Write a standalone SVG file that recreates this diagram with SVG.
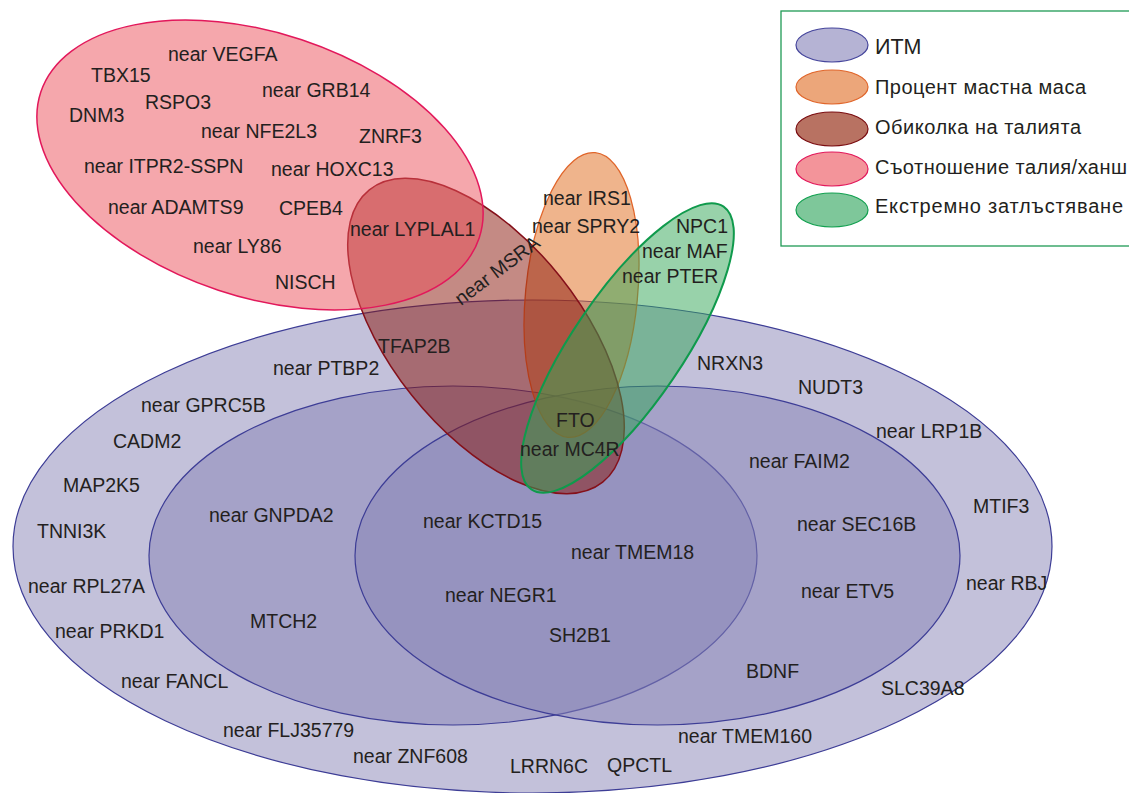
<svg xmlns="http://www.w3.org/2000/svg" width="1129" height="793" viewBox="0 0 1129 793">
<style>
text{font-family:"Liberation Sans",Arial,sans-serif;font-size:19.5px;fill:#231f20}
.bmi{fill:#8783b5;fill-opacity:.5;stroke:#3d3d96;stroke-width:1.2}
.fat{fill:#df6919;fill-opacity:.5;stroke:#e0652a;stroke-width:1.3}
.waist{fill:#89150a;fill-opacity:.5;stroke:#85101a;stroke-width:1.5}
.whr{fill:#eb4f5a;fill-opacity:.5;stroke:#e2185b;stroke-width:1.5}
.ext{fill:#31a555;fill-opacity:.5;stroke:#0f9a4c;stroke-width:2}
.leg{font-size:20px}
</style>
<rect width="1129" height="793" fill="#ffffff"/>
<g id="bmi">
<ellipse class="bmi" cx="532.5" cy="546.5" rx="519.5" ry="246.5"/>
<ellipse class="bmi" cx="453" cy="555.5" rx="304" ry="169.5"/>
<ellipse class="bmi" cx="657.5" cy="555.5" rx="302.5" ry="169.5"/>
</g>
<g id="body-fat">
<ellipse class="fat" cx="0" cy="0" rx="143" ry="56" transform="translate(581.5 295) rotate(95.5)"/>
</g>
<g id="waist">
<ellipse class="waist" cx="0" cy="0" rx="187" ry="95" transform="translate(486 336) rotate(51.4)"/>
</g>
<g id="whr">
<ellipse class="whr" cx="0" cy="0" rx="231" ry="132" transform="translate(260 165) rotate(18.4)"/>
</g>
<g id="extreme">
<ellipse class="ext" cx="0" cy="0" rx="171" ry="55" transform="translate(627.5 348) rotate(124.2)"/>
</g>
<g id="connectors"/>
<g id="labels">
<text x="168" y="61">near VEGFA</text>
<text x="91" y="82">TBX15</text>
<text x="262" y="97">near GRB14</text>
<text x="145" y="109">RSPO3</text>
<text x="69" y="122">DNM3</text>
<text x="201" y="138">near NFE2L3</text>
<text x="359" y="143">ZNRF3</text>
<text x="84" y="173">near ITPR2-SSPN</text>
<text x="271" y="176">near HOXC13</text>
<text x="108" y="214">near ADAMTS9</text>
<text x="279" y="215">CPEB4</text>
<text x="350" y="236">near LYPLAL1</text>
<text x="193" y="253">near LY86</text>
<text x="275" y="289">NISCH</text>
<text x="0" y="0" transform="translate(461 306) rotate(-37)">near MSRA</text>
<text x="543" y="205">near IRS1</text>
<text x="532" y="233">near SPRY2</text>
<text x="676" y="233">NPC1</text>
<text x="642" y="258">near MAF</text>
<text x="622" y="283">near PTER</text>
<text x="378" y="353">TFAP2B</text>
<text x="556" y="427">FTO</text>
<text x="520" y="456">near MC4R</text>
<text x="697" y="370">NRXN3</text>
<text x="273" y="375">near PTBP2</text>
<text x="141" y="412">near GPRC5B</text>
<text x="113" y="448">CADM2</text>
<text x="63" y="492">MAP2K5</text>
<text x="37" y="538">TNNI3K</text>
<text x="209" y="522">near GNPDA2</text>
<text x="28" y="593">near RPL27A</text>
<text x="55" y="638">near PRKD1</text>
<text x="250" y="628">MTCH2</text>
<text x="121" y="688">near FANCL</text>
<text x="223" y="737">near FLJ35779</text>
<text x="353" y="763">near ZNF608</text>
<text x="510" y="773">LRRN6C</text>
<text x="607" y="772">QPCTL</text>
<text x="678" y="743">near TMEM160</text>
<text x="881" y="695">SLC39A8</text>
<text x="746" y="678">BDNF</text>
<text x="801" y="598">near ETV5</text>
<text x="966" y="590">near RBJ</text>
<text x="797" y="531">near SEC16B</text>
<text x="973" y="513">MTIF3</text>
<text x="749" y="468">near FAIM2</text>
<text x="876" y="438">near LRP1B</text>
<text x="798" y="394">NUDT3</text>
<text x="423" y="528">near KCTD15</text>
<text x="571" y="559">near TMEM18</text>
<text x="445" y="602">near NEGR1</text>
<text x="549" y="642">SH2B1</text>
</g>
<g id="legend">
<rect x="781" y="11" width="360" height="235" fill="#ffffff" stroke="#1f9a55" stroke-width="1.3"/>
<ellipse cx="832" cy="45" rx="36" ry="17" fill="#b5b3d4" stroke="#45459c" stroke-width="1.2"/>
<ellipse cx="832" cy="87" rx="36" ry="17" fill="#eca67a" stroke="#e0652a" stroke-width="1.2"/>
<ellipse cx="832" cy="129" rx="36" ry="17" fill="#b87262" stroke="#7a0c10" stroke-width="1.2"/>
<ellipse cx="832" cy="169" rx="36" ry="17" fill="#f3949a" stroke="#e2185b" stroke-width="1.2"/>
<ellipse cx="832" cy="210" rx="36" ry="17" fill="#7ec79a" stroke="#12a050" stroke-width="1.2"/>
<text x="875" y="54" style="font-size:21.5px">ИТМ</text>
<text x="875" y="94" class="leg" lang="bg" textLength="211" lengthAdjust="spacing">Процент мастна маса</text>
<text x="875" y="134" class="leg" lang="bg" textLength="206" lengthAdjust="spacing">Обиколка на талията</text>
<text x="875" y="174" class="leg" lang="bg" textLength="252" lengthAdjust="spacing">Съотношение талия/ханш</text>
<text x="875" y="213" class="leg" lang="bg" textLength="248" lengthAdjust="spacing">Екстремно затлъстяване</text>
</g>
</svg>
